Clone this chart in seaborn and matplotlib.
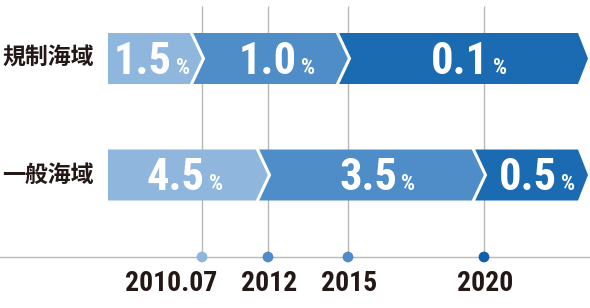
import matplotlib
matplotlib.use("Agg")
import matplotlib.pyplot as plt
from matplotlib.patches import Polygon
from matplotlib import font_manager
import seaborn as sns
import pandas as pd

# ---- data ----
milestones = ["2010.07", "2012", "2015", "2020"]
milestone_pos = [202, 268, 348, 484]          # position on the timeline axis
zones = ["規制海域", "一般海域"]
regulated_rates = [1.5, 1.0, 0.1]
regulated_breaks = ["2010.07", "2015"]
general_rates = [4.5, 3.5, 0.5]
general_breaks = ["2012", "2020"]
timeline_start, timeline_end = 108, 588

tier_colors = ["#8fb7dd", "#4e8dc7", "#1b6bb3"]
dot_colors = ["#8fb7dd", "#4e8dc7", "#4e8dc7", "#1060ae"]

sns.set_theme(style="white")
names = {f.name for f in font_manager.fontManager.ttflist}
narrow = "Liberation Sans"
for cand in ["Roboto Condensed", "Archivo Narrow", "Sofia Sans Condensed", "Liberation Sans Narrow"]:
    if cand in names:
        narrow = cand
        break
plt.rcParams["font.family"] = [narrow, "DejaVu Sans"]

fig = plt.figure(figsize=(5.9, 3.08), dpi=100)
ax = fig.add_axes([0, 0, 1, 1])
ax.set_xlim(0, 590)
ax.set_ylim(308, 0)
ax.axis("off")

pos = dict(zip(milestones, milestone_pos))
grid_c = "#b8b8b8"
base_y = 257
ax.vlines(milestone_pos, 6, base_y, color=grid_c, lw=1.0, zorder=1)
ax.axhline(base_y, color=grid_c, lw=1.0, zorder=1)

rows = [(zones[0], regulated_rates, regulated_breaks, 58.5),
        (zones[1], general_rates, general_breaks, 175)]
h = 51
d = 12
txt_color = "#231815"

fig.canvas.draw()
renderer = fig.canvas.get_renderer()

for zone, rates, breaks, yc in rows:
    top, bot = yc - h / 2, yc + h / 2
    tips = [pos[b] + 1.5 for b in breaks] + [timeline_end]
    lefts = [timeline_start] + tips[:-1]
    for i, (rate, xl, xr) in enumerate(zip(rates, lefts, tips)):
        dd = d if i < len(rates) - 1 else 10
        if i == 0:
            left_pts = [(xl, bot), (xl, top)]
        else:
            left_pts = [(xl - d, bot), (xl, yc), (xl - d, top)]
        pts = left_pts + [(xr - dd, top), (xr, yc), (xr - dd, bot)]
        ax.add_patch(Polygon(pts, closed=True, fc=tier_colors[i], ec="none", zorder=2))
        if i < len(rates) - 1:
            ax.plot([xr - d, xr, xr - d], [top, yc, bot], color="white", lw=2.2,
                    solid_joinstyle="miter", zorder=3)
        # label
        cx = (xl + xr) / 2 - (4 if i == 0 else 0)
        t1 = ax.text(0, yc + 15.5, f"{rate:.1f}", color="white", fontsize=32,
                     fontweight="bold", ha="left", va="baseline", zorder=4)
        t2 = ax.text(0, yc + 15.5, "%", color="white", fontsize=16,
                     fontweight="bold", ha="left", va="baseline", zorder=4)
        w1 = t1.get_window_extent(renderer).width
        w2 = t2.get_window_extent(renderer).width
        gap = 4
        x0 = cx - (w1 + gap + w2) / 2
        t1.set_x(x0)
        t2.set_x(x0 + w1 + gap)
    ax.text(2, yc, zone, color=txt_color, fontsize=16.5, fontweight="bold",
            ha="left", va="center", family=["Noto Sans CJK JP", "DejaVu Sans"])

dots = pd.DataFrame({"x": milestone_pos, "y": [base_y] * 4, "m": milestones})
sns.scatterplot(data=dots, x="x", y="y", hue="m", palette=dict(zip(milestones, dot_colors)),
                s=60, edgecolor="none", legend=False, ax=ax, zorder=5)
ax.set_xlim(0, 590)
ax.set_ylim(308, 0)
ax.axis("off")

label_shift = {"2010.07": -31}
for m, p in zip(milestones, milestone_pos):
    ax.text(p + label_shift.get(m, 1.5), 291, m, color=txt_color, fontsize=20,
            fontweight="bold", ha="center", va="baseline")

fig.savefig("out.png", dpi=100)
